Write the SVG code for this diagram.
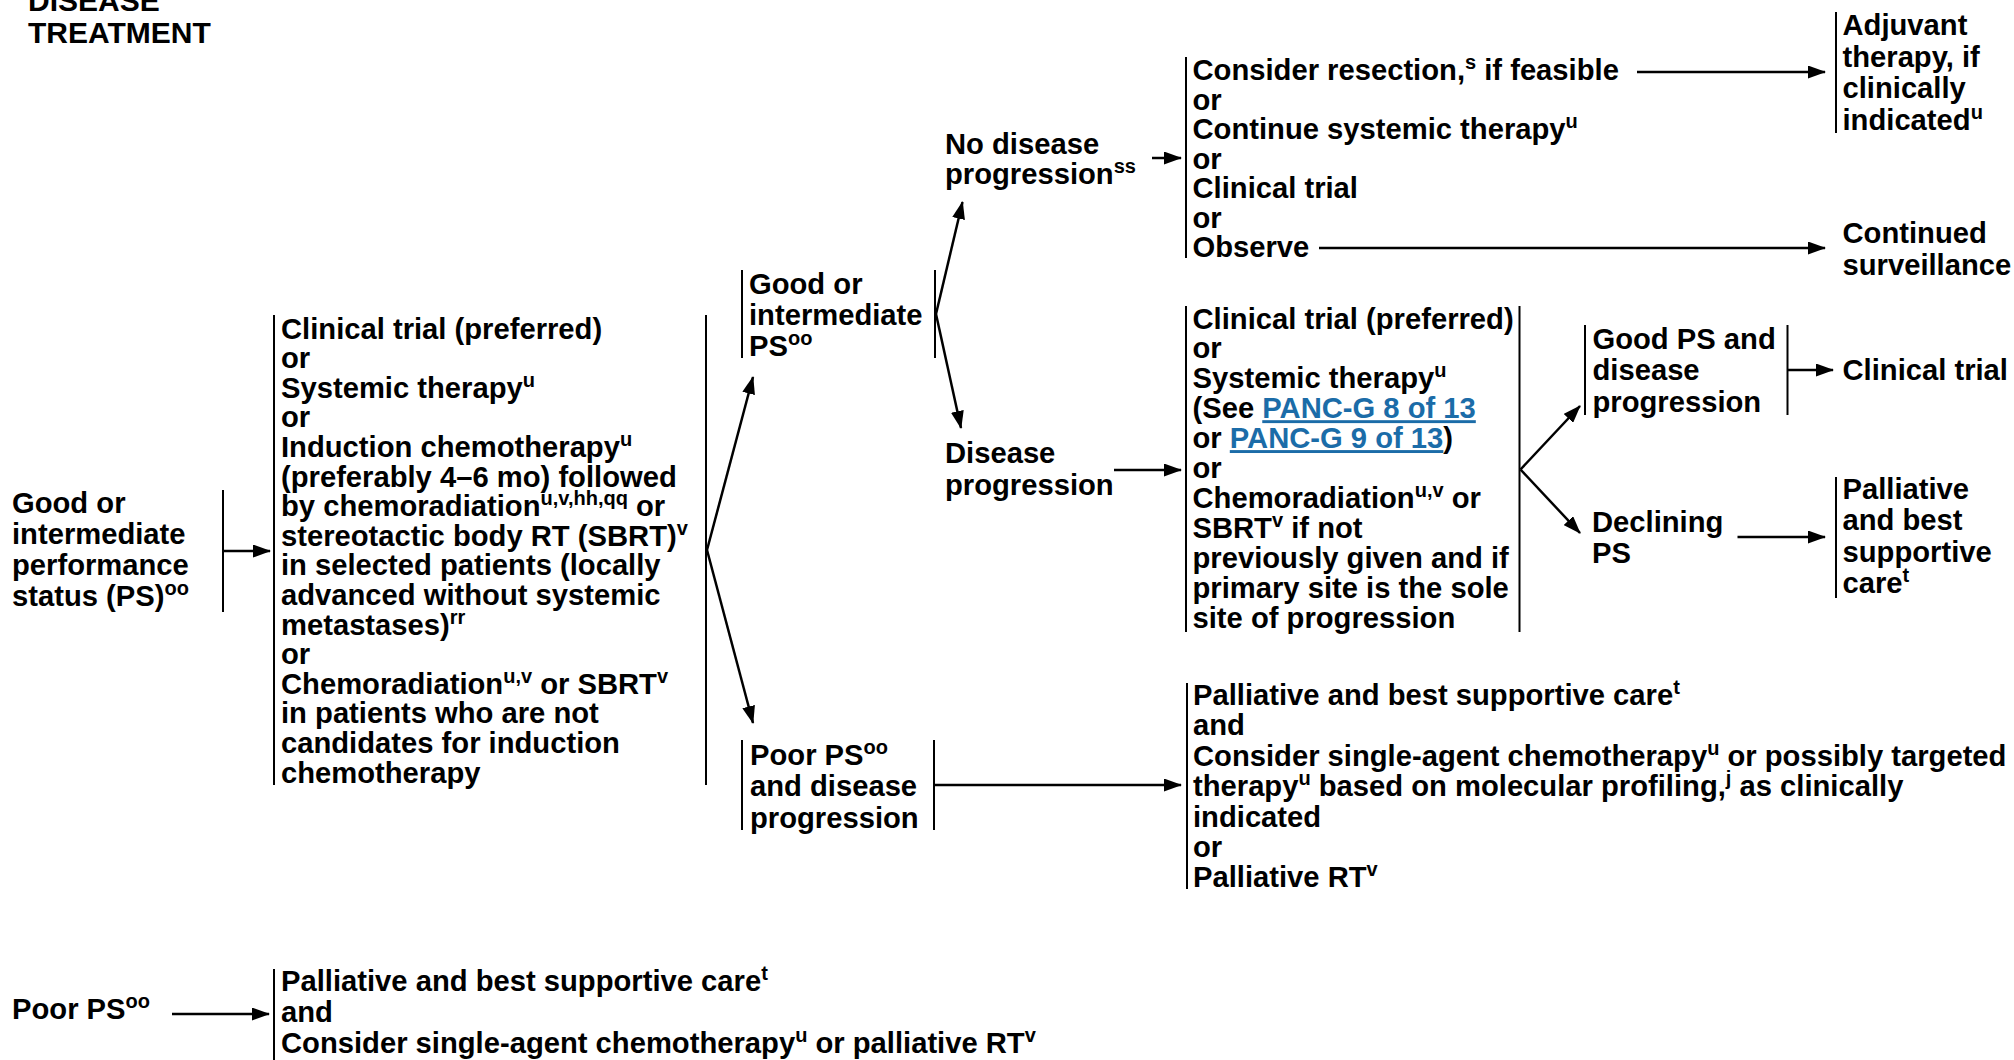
<svg xmlns="http://www.w3.org/2000/svg" width="2014" height="1060" viewBox="0 0 2014 1060">
<defs>
<style>
text{font-family:"Liberation Sans",Arial,Helvetica,sans-serif;font-weight:bold;font-size:29.2px;fill:#000}
.s{font-size:20px}
.lk{fill:#1B6CA8;text-decoration:underline}
.bar{stroke:#000;stroke-width:2;fill:none}
.ar{stroke:#000;stroke-width:2.5;fill:none;marker-end:url(#ah)}
</style>
<marker id="ah" markerUnits="userSpaceOnUse" markerWidth="18" markerHeight="13" refX="17" refY="6.5" orient="auto">
<path d="M0,0 L18,6.5 L0,13 z" fill="#000"/>
</marker>
</defs>
<rect width="2014" height="1060" fill="#fff"/>

<g id="title">
<text x="28" y="11" style="font-size:30px">DISEASE</text>
<text x="28" y="42.5" style="font-size:30px">TREATMENT</text>
</g>

<g id="node-good-ps">
<text><tspan x="12" y="513">Good or</tspan><tspan x="12" y="544">intermediate</tspan><tspan x="12" y="575">performance</tspan><tspan x="12" y="606">status (PS)<tspan class="s" dy="-11">oo</tspan></tspan></text>
<line class="bar" x1="223" y1="490" x2="223" y2="612"/>
</g>

<g id="node-first-line">
<line class="bar" x1="274" y1="315" x2="274" y2="785"/>
<line class="bar" x1="706" y1="315" x2="706" y2="785"/>
<text><tspan x="281" y="338.5">Clinical trial (preferred)</tspan><tspan x="281" y="368.1">or</tspan><tspan x="281" y="397.7">Systemic therapy<tspan class="s" dy="-11">u</tspan></tspan><tspan x="281" y="427.3">or</tspan><tspan x="281" y="456.9">Induction chemotherapy<tspan class="s" dy="-11">u</tspan></tspan><tspan x="281" y="486.5">(preferably 4–6 mo) followed</tspan><tspan x="281" y="516.1">by chemoradiation<tspan class="s" dy="-11">u,v,hh,qq</tspan><tspan dy="11"> or</tspan></tspan><tspan x="281" y="545.7">stereotactic body RT (SBRT)<tspan class="s" dy="-11">v</tspan></tspan><tspan x="281" y="575.3">in selected patients (locally</tspan><tspan x="281" y="604.9">advanced without systemic</tspan><tspan x="281" y="634.5">metastases)<tspan class="s" dy="-11">rr</tspan></tspan><tspan x="281" y="664.1">or</tspan><tspan x="281" y="693.7">Chemoradiation<tspan class="s" dy="-11">u,v</tspan><tspan dy="11"> or SBRT</tspan><tspan class="s" dy="-11">v</tspan></tspan><tspan x="281" y="723.3">in patients who are not</tspan><tspan x="281" y="752.9">candidates for induction</tspan><tspan x="281" y="782.5">chemotherapy</tspan></text>
</g>

<g id="node-good-int-ps">
<line class="bar" x1="742" y1="270" x2="742" y2="358"/>
<line class="bar" x1="935" y1="270" x2="935" y2="358"/>
<text><tspan x="749" y="293.5">Good or</tspan><tspan x="749" y="324.5">intermediate</tspan><tspan x="749" y="356">PS<tspan class="s" dy="-11">oo</tspan></tspan></text>
</g>

<g id="node-no-progression">
<text><tspan x="945" y="153.5">No disease</tspan><tspan x="945" y="184">progression<tspan class="s" dy="-11">ss</tspan></tspan></text>
</g>

<g id="node-no-prog-options">
<line class="bar" x1="1186" y1="57" x2="1186" y2="258"/>
<text><tspan x="1192.5" y="80">Consider resection,<tspan class="s" dy="-11">s</tspan><tspan dy="11"> if feasible</tspan></tspan><tspan x="1192.5" y="109.5">or</tspan><tspan x="1192.5" y="139">Continue systemic therapy<tspan class="s" dy="-11">u</tspan></tspan><tspan x="1192.5" y="168.5">or</tspan><tspan x="1192.5" y="198">Clinical trial</tspan><tspan x="1192.5" y="227.5">or</tspan><tspan x="1192.5" y="257">Observe</tspan></text>
</g>

<g id="node-adjuvant">
<line class="bar" x1="1836" y1="12" x2="1836" y2="133"/>
<text><tspan x="1842.5" y="35">Adjuvant</tspan><tspan x="1842.5" y="66.5">therapy, if</tspan><tspan x="1842.5" y="98">clinically</tspan><tspan x="1842.5" y="129.5">indicated<tspan class="s" dy="-11">u</tspan></tspan></text>
</g>

<g id="node-surveillance">
<text><tspan x="1842.5" y="243">Continued</tspan><tspan x="1842.5" y="274.5">surveillance</tspan></text>
</g>

<g id="node-progression">
<text><tspan x="945" y="463">Disease</tspan><tspan x="945" y="494.5">progression</tspan></text>
</g>

<g id="node-prog-options">
<line class="bar" x1="1186" y1="306" x2="1186" y2="632"/>
<line class="bar" x1="1519.5" y1="306" x2="1519.5" y2="632"/>
<text><tspan x="1192.5" y="328.5">Clinical trial (preferred)</tspan><tspan x="1192.5" y="358.4">or</tspan><tspan x="1192.5" y="388.3">Systemic therapy<tspan class="s" dy="-11">u</tspan></tspan><tspan x="1192.5" y="418.2">(See <tspan class="lk">PANC-G 8 of 13</tspan></tspan><tspan x="1192.5" y="448.1">or <tspan class="lk">PANC-G 9 of 13</tspan>)</tspan><tspan x="1192.5" y="478">or</tspan><tspan x="1192.5" y="507.9">Chemoradiation<tspan class="s" dy="-11">u,v</tspan><tspan dy="11"> or</tspan></tspan><tspan x="1192.5" y="537.8">SBRT<tspan class="s" dy="-11">v</tspan><tspan dy="11"> if not</tspan></tspan><tspan x="1192.5" y="567.7">previously given and if</tspan><tspan x="1192.5" y="597.6">primary site is the sole</tspan><tspan x="1192.5" y="627.5">site of progression</tspan></text>
</g>

<g id="node-good-ps-prog">
<line class="bar" x1="1585" y1="325" x2="1585" y2="415"/>
<line class="bar" x1="1787.5" y1="325" x2="1787.5" y2="415"/>
<text><tspan x="1592.5" y="348.5">Good PS and</tspan><tspan x="1592.5" y="380">disease</tspan><tspan x="1592.5" y="411.5">progression</tspan></text>
</g>

<g id="node-clinical-trial">
<text x="1842.5" y="380">Clinical trial</text>
</g>

<g id="node-declining">
<text><tspan x="1592" y="531.5">Declining</tspan><tspan x="1592" y="563">PS</tspan></text>
</g>

<g id="node-palliative">
<line class="bar" x1="1836" y1="477" x2="1836" y2="598"/>
<text><tspan x="1842.5" y="498.5">Palliative</tspan><tspan x="1842.5" y="530">and best</tspan><tspan x="1842.5" y="561.5">supportive</tspan><tspan x="1842.5" y="593">care<tspan class="s" dy="-11">t</tspan></tspan></text>
</g>

<g id="node-poor-ps-prog">
<line class="bar" x1="742" y1="740" x2="742" y2="830"/>
<line class="bar" x1="934" y1="740" x2="934" y2="830"/>
<text><tspan x="750" y="764.5">Poor PS<tspan class="s" dy="-11">oo</tspan></tspan><tspan x="750" y="796">and disease</tspan><tspan x="750" y="827.5">progression</tspan></text>
</g>

<g id="node-poor-prog-options">
<line class="bar" x1="1187" y1="683" x2="1187" y2="889"/>
<text><tspan x="1193" y="705">Palliative and best supportive care<tspan class="s" dy="-11">t</tspan></tspan><tspan x="1193" y="735.4">and</tspan><tspan x="1193" y="765.8">Consider single-agent chemotherapy<tspan class="s" dy="-11">u</tspan><tspan dy="11"> or possibly targeted</tspan></tspan><tspan x="1193" y="796.2">therapy<tspan class="s" dy="-11">u</tspan><tspan dy="11"> based on molecular profiling,</tspan><tspan class="s" dy="-11">j</tspan><tspan dy="11"> as clinically</tspan></tspan><tspan x="1193" y="826.6">indicated</tspan><tspan x="1193" y="857">or</tspan><tspan x="1193" y="887.4">Palliative RT<tspan class="s" dy="-11">v</tspan></tspan></text>
</g>

<g id="node-poor-ps">
<text x="12" y="1019">Poor PS<tspan class="s" dy="-11">oo</tspan></text>
</g>

<g id="node-poor-ps-options">
<line class="bar" x1="274" y1="969" x2="274" y2="1062"/>
<text><tspan x="281" y="991">Palliative and best supportive care<tspan class="s" dy="-11">t</tspan></tspan><tspan x="281" y="1022">and</tspan><tspan x="281" y="1053">Consider single-agent chemotherapy<tspan class="s" dy="-11">u</tspan><tspan dy="11"> or palliative RT</tspan><tspan class="s" dy="-11">v</tspan></tspan></text>
</g>

<g id="connectors">
<line class="ar" x1="223" y1="551" x2="270" y2="551"/>
<line class="ar" x1="707" y1="550" x2="753" y2="377"/>
<line class="ar" x1="707" y1="550" x2="753" y2="723"/>
<line class="ar" x1="936" y1="314" x2="962.5" y2="202"/>
<line class="ar" x1="936" y1="314" x2="961" y2="428"/>
<line class="ar" x1="1152" y1="158" x2="1181" y2="158"/>
<line class="ar" x1="1637" y1="72" x2="1825" y2="72"/>
<line class="ar" x1="1319" y1="248" x2="1825" y2="248"/>
<line class="ar" x1="1114" y1="470" x2="1181" y2="470"/>
<line class="ar" x1="1520.5" y1="469.5" x2="1580" y2="406"/>
<line class="ar" x1="1520.5" y1="469.5" x2="1580" y2="533"/>
<line class="ar" x1="1787.5" y1="370" x2="1833" y2="370"/>
<line class="ar" x1="1737.5" y1="537" x2="1825" y2="537"/>
<line class="ar" x1="934" y1="785" x2="1181" y2="785"/>
<line class="ar" x1="172" y1="1014" x2="269" y2="1014"/>
</g>
</svg>
